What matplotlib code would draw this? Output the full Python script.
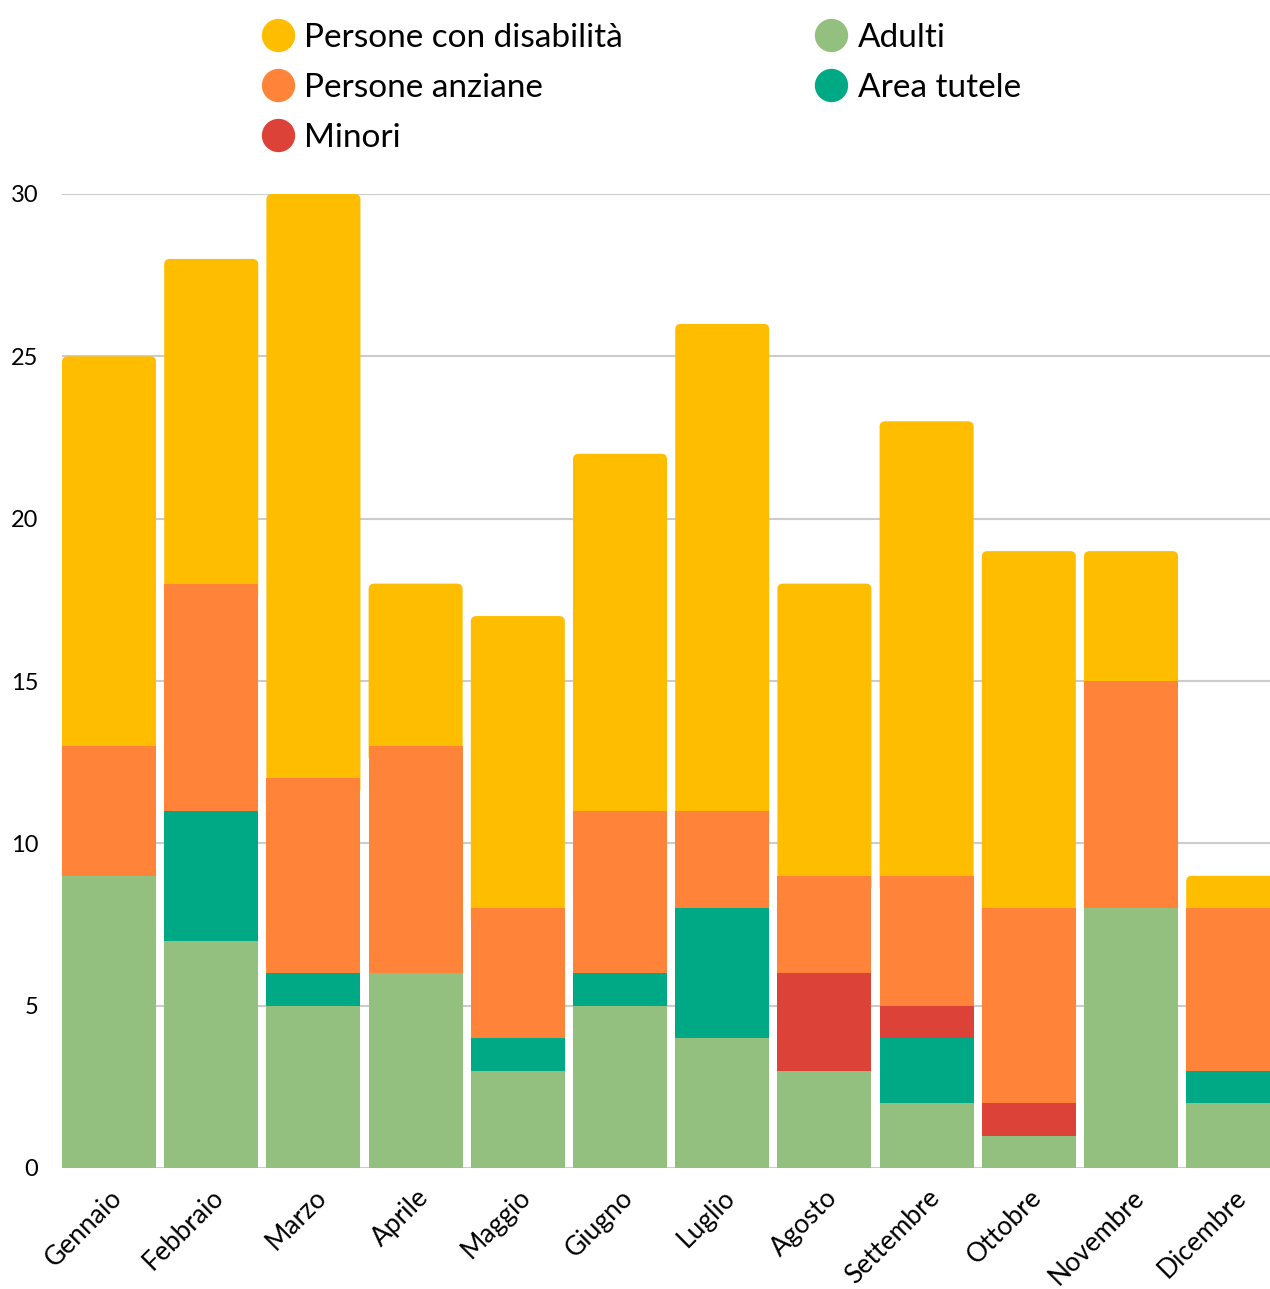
import matplotlib.pyplot as plt
from matplotlib.patches import FancyBboxPatch
import numpy as np

plt.rcParams['font.family'] = ['Lato', 'DejaVu Sans']

# Dati
mesi = ['Gennaio', 'Febbraio', 'Marzo', 'Aprile', 'Maggio', 'Giugno',
        'Luglio', 'Agosto', 'Settembre', 'Ottobre', 'Novembre', 'Dicembre']
adulti = [9, 7, 5, 6, 3, 5, 4, 3, 2, 1, 8, 2]
area_tutele = [0, 4, 1, 0, 1, 1, 4, 0, 2, 0, 0, 1]
minori = [0, 0, 0, 0, 0, 0, 0, 3, 1, 1, 0, 0]
persone_anziane = [4, 7, 6, 7, 4, 5, 3, 3, 4, 6, 7, 5]
persone_disabilita = [12, 10, 18, 5, 9, 11, 15, 9, 14, 11, 4, 1]

serie = [
    ('Adulti', adulti, '#93BF7F'),
    ('Area tutele', area_tutele, '#00A985'),
    ('Minori', minori, '#DC4238'),
    ('Persone anziane', persone_anziane, '#FF843A'),
    ('Persone con disabilità', persone_disabilita, '#FFBD00'),
]

fig = plt.figure(figsize=(12.7, 12.89), dpi=100)
ax = fig.add_axes([62 / 1270, 1 - 1168 / 1289, 1 - 62 / 1270, (1168 - 194) / 1289])

x = np.arange(len(mesi))
bottom = np.zeros(len(mesi))
colori = {}
ultimo = None
for nome, valori, colore in serie:
    ultimo = ax.bar(x, valori, 0.92, bottom=bottom, color=colore, zorder=3, label=nome)
    colori[nome] = colore
    bottom += np.array(valori)

# segmento superiore con angoli arrotondati
for r in ultimo.patches:
    r.set_visible(False)
    xx, yy = r.get_xy()
    p = FancyBboxPatch((xx, yy - 0.5), r.get_width(), r.get_height() + 0.5,
                       boxstyle='round,pad=0,rounding_size=0.055', mutation_aspect=3.1,
                       facecolor=r.get_facecolor(), edgecolor='none', zorder=2)
    ax.add_patch(p)

ax.set_xlim(-0.46, 11.36)
ax.set_ylim(0, 30)
ax.set_yticks([0, 5, 10, 15, 20, 25, 30])
ax.yaxis.grid(True, color='#CCCCCC', linewidth=1.5, zorder=0)
ax.axhline(0, color='#555555', linewidth=1.2, zorder=1)
for s in ax.spines.values():
    s.set_visible(False)
ax.tick_params(axis='y', length=0, pad=17, labelsize=17)
ax.tick_params(axis='x', length=0, pad=12, labelsize=19)
ax.set_xticks(x)
ax.set_xticklabels(mesi, rotation=45, ha='right', rotation_mode='anchor')

# Legenda
ordine = ['Persone con disabilità', 'Persone anziane', 'Minori', 'Adulti', 'Area tutele']
leg_handles = [plt.Line2D([], [], marker='o', linestyle='', markersize=24,
                          markerfacecolor=colori[n], markeredgecolor='none') for n in ordine]
fig.legend(leg_handles, ordine, ncol=2, loc='upper left', bbox_to_anchor=(231 / 1270, 1.0058),
           frameon=False, fontsize=24, handletextpad=0.3, columnspacing=5.75,
           labelspacing=0.6, handlelength=1.0)

fig.savefig('out.png', dpi=100)
